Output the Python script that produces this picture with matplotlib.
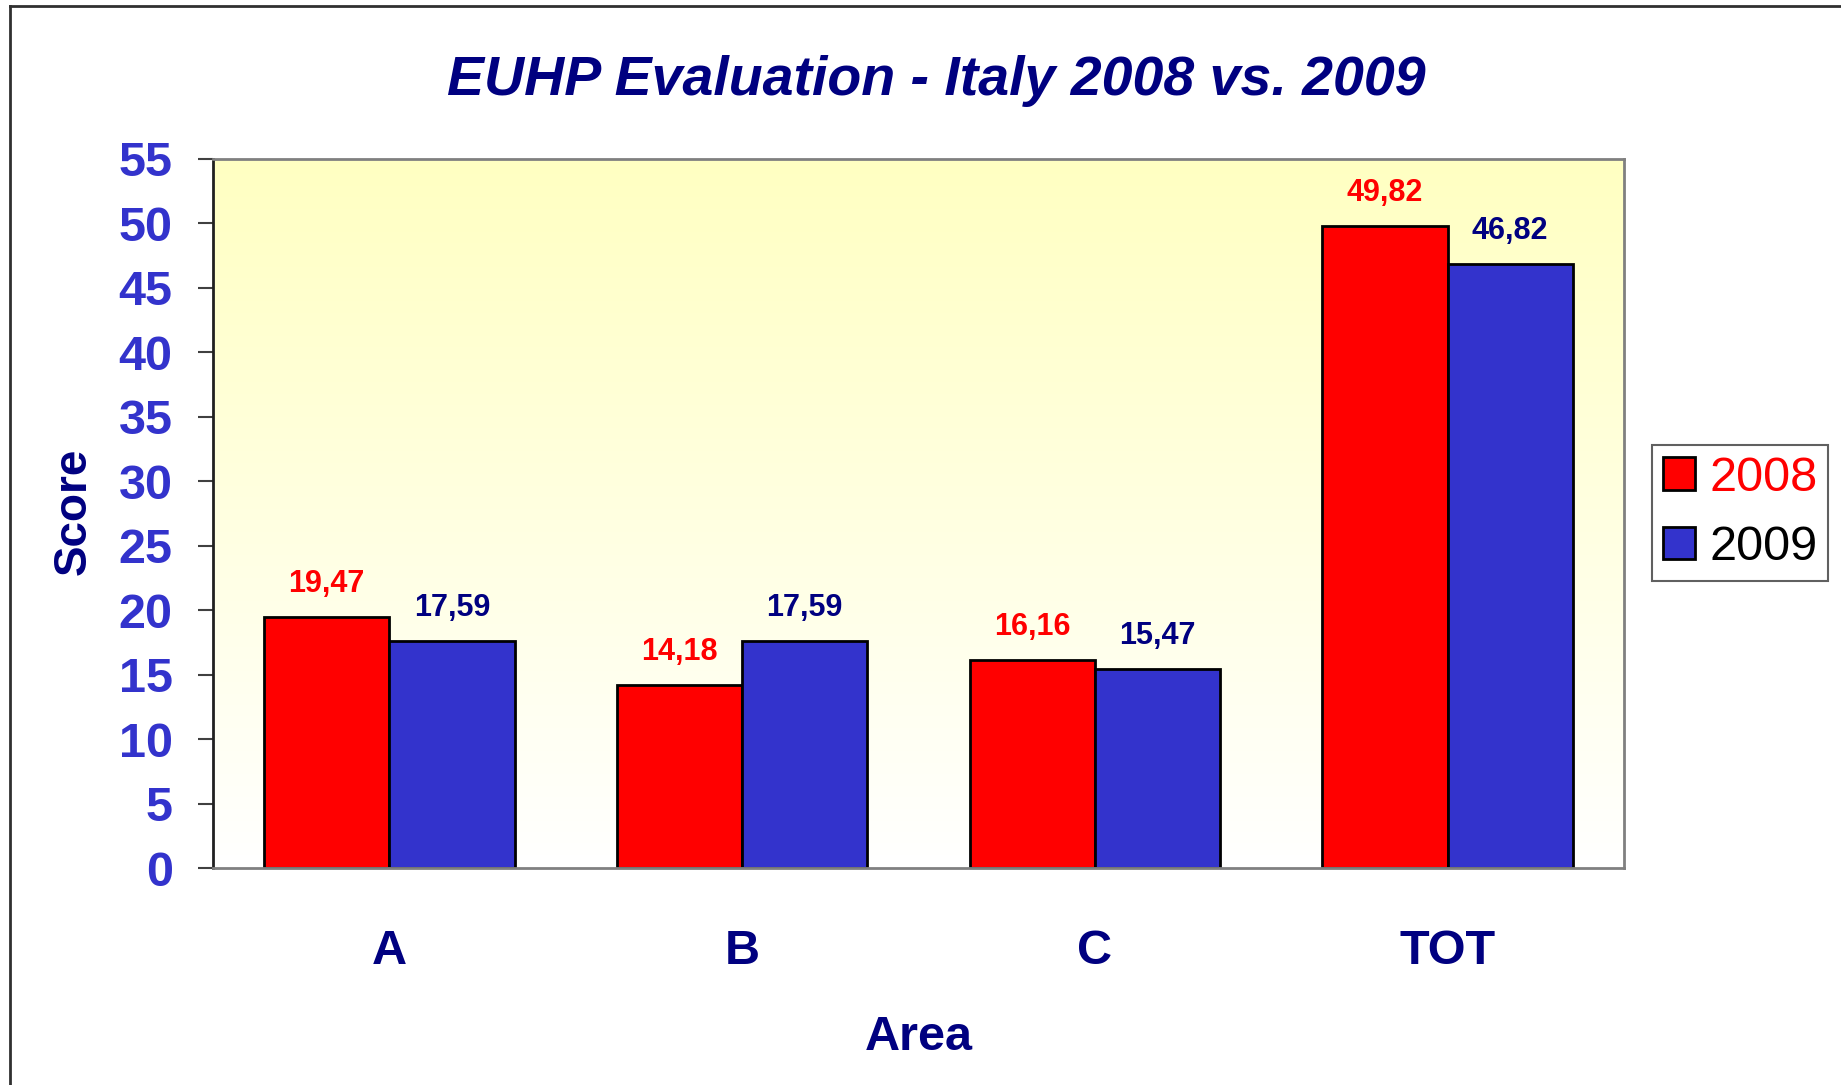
import numpy as np
import matplotlib
matplotlib.use("Agg")
import matplotlib.pyplot as plt
from matplotlib.lines import Line2D
from matplotlib.patches import Patch

plt.rcParams['font.family'] = ['Liberation Sans', 'DejaVu Sans']

areas = ["A", "B", "C", "TOT"]
score_2008 = [19.47, 14.18, 16.16, 49.82]
score_2009 = [17.59, 17.59, 15.47, 46.82]
series_names = ["2008", "2009"]
y_ticks = [0, 5, 10, 15, 20, 25, 30, 35, 40, 45, 50, 55]

red = "#FF0000"
blue = "#3333CC"
navy = "#000080"

fig = plt.figure(figsize=(18.41, 10.85), dpi=100)
ax = fig.add_axes([213 / 1841, 1 - 868 / 1085, (1624 - 213) / 1841, (868 - 159) / 1085])

# yellow -> white gradient behind the bars
top = np.array([1.0, 1.0, 0.76])
bottom = np.array([1.0, 1.0, 1.0])
t = np.linspace(0, 1, 256)[:, None]
grad = (top * (1 - t) + bottom * t)[:, None, :]
ax.imshow(grad, extent=[0, 1, 0, 1], transform=ax.transAxes, aspect="auto", zorder=0)
ax.patch.set_alpha(0)

x = np.arange(len(areas))
w = 0.355
b1 = ax.bar(x - w / 2, score_2008, w, color=red, edgecolor="black", linewidth=2, zorder=2)
b2 = ax.bar(x + w / 2, score_2009, w, color=blue, edgecolor="black", linewidth=2, zorder=2)

for bars, vals, col in [(b1, score_2008, red), (b2, score_2009, navy)]:
    for rect, v in zip(bars, vals):
        ax.annotate(f"{v:.2f}".replace(".", ","), (rect.get_x() + rect.get_width() / 2, v),
                    xytext=(0, 13), textcoords="offset points", ha="center", va="bottom",
                    fontsize=22, fontweight="bold", color=col, zorder=3)

ax.set_xlim(-0.5, len(areas) - 0.5)
ax.set_ylim(0, 55)
ax.set_yticks(y_ticks)
ax.set_yticklabels([str(v) for v in y_ticks], fontsize=35, fontweight="bold", color=blue)
ax.tick_params(axis="y", direction="out", length=11, width=1.5, color="#404040", pad=18)
ax.set_xticks(x)
ax.set_xticklabels(areas, fontsize=35, fontweight="bold", color=navy)
ax.tick_params(axis="x", length=0, pad=44)

for side in ["top", "right", "bottom"]:
    ax.spines[side].set_color("#808080")
    ax.spines[side].set_linewidth(2)
ax.spines["left"].set_color("#202020")
ax.spines["left"].set_linewidth(2)

fig.text(936 / 1841, 1 - 81 / 1085, "EUHP Evaluation - Italy 2008 vs. 2009", ha="center", va="center",
         fontsize=40, fontweight="bold", fontstyle="italic", color=navy)
fig.text(74 / 1841, 1 - 511 / 1085, "Score", rotation=90, ha="center", va="center",
         fontsize=33, fontweight="bold", color=navy)
fig.text(919 / 1841, 1 - 1037 / 1085, "Area", ha="center", va="center",
         fontsize=35, fontweight="bold", color=navy)

handles = [Patch(facecolor=red, edgecolor="black", linewidth=2),
           Patch(facecolor=blue, edgecolor="black", linewidth=2)]
leg = ax.legend(handles, series_names, loc="center",
                bbox_to_anchor=(1740 / 1841, 1 - 513 / 1085), bbox_transform=fig.transFigure,
                fontsize=35, handlelength=0.66, handleheight=0.66, handletextpad=0.3,
                labelspacing=0.5, borderpad=0.22, fancybox=False, framealpha=1)
leg.get_frame().set_edgecolor("#606060")
leg.get_frame().set_linewidth(1.5)
leg.get_texts()[0].set_color(red)
leg.get_texts()[1].set_color("black")

# outer chart border (left and top only are visible)
fig.add_artist(Line2D([10 / 1841, 10 / 1841], [0, 1 - 6 / 1085], color="#303030", linewidth=2))
fig.add_artist(Line2D([10 / 1841, 1], [1 - 6 / 1085, 1 - 6 / 1085], color="#303030", linewidth=2))

fig.savefig("out.png", dpi=100)
